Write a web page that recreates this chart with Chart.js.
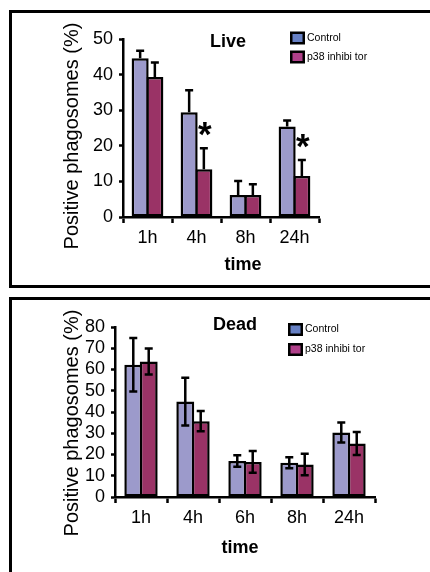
<!DOCTYPE html>
<html>
<head>
<meta charset="utf-8">
<script src="https://cdn.jsdelivr.net/npm/chart.js@4.4.1/dist/chart.umd.min.js"></script>
<style>
  body { margin: 0; background: #fff; width: 430px; height: 572px; overflow: hidden; position: relative; }
  .box { position: absolute; border: 3px solid #000; box-sizing: border-box; }
  #box1 { left: 9px; top: 10px; width: 440px; height: 278px; }
  #box2 { left: 9px; top: 297px; width: 440px; height: 300px; }
  canvas { position: absolute; left: 0; }
  #liveChart { top: 0; }
  #deadChart { top: 290px; }
</style>
</head>
<body>
<div class="box" id="box1"></div>
<div class="box" id="box2"></div>
<canvas id="liveChart" width="430" height="290"></canvas>
<canvas id="deadChart" width="430" height="282"></canvas>
<script>
// series names
const seriesNames = ['Control', 'p38 inhibi tor'];

// Live panel (error bars only go up)
const liveLabels = ['1h', '4h', '8h', '24h'];
const liveControl = [44.6, 29.4, 6.2, 25.4];
const liveControlErr = [2.1, 6.2, 3.9, 1.7];
const liveInhib = [39.3, 13.4, 6.2, 11.5];
const liveInhibErr = [4.1, 5.9, 3.0, 4.5];
const liveStars = [false, true, false, true]; // asterisk over inhibitor bar
const liveTicks = [0, 10, 20, 30, 40, 50];

// Dead panel (symmetric error bars)
const deadLabels = ['1h', '4h', '6h', '8h', '24h'];
const deadControl = [62.2, 44.9, 16.9, 16.1, 30.4];
const deadControlErr = [12.6, 11.2, 2.7, 2.6, 4.7];
const deadInhib = [63.8, 35.7, 16.5, 15.3, 25.2];
const deadInhibErr = [6.1, 4.8, 5.1, 5.1, 5.4];
const deadTicks = [0, 10, 20, 30, 40, 50, 60, 70, 80];

const FONT = "'Liberation Sans', Arial, sans-serif";
const barColors = ['#9c9acb', '#9a3366'];
const swatchColors = ['#6680c4', '#b0408a'];

// titles, legend, error bars and asterisks
const extras = {
    id: 'extras',
    afterDatasetsDraw(chart, args, o) {
        const ctx = chart.ctx;
        const y = chart.scales.y;
        ctx.save();
        ctx.strokeStyle = '#000';
        ctx.lineWidth = 2.5;
        o.errors.forEach((errs, di) => {
            const meta = chart.getDatasetMeta(di);
            const vals = chart.data.datasets[di].data;
            meta.data.forEach((bar, i) => {
                const top = y.getPixelForValue(vals[i] + errs[i]);
                const bot = o.twoSided ? y.getPixelForValue(vals[i] - errs[i]) : bar.y;
                ctx.beginPath();
                ctx.moveTo(bar.x, top); ctx.lineTo(bar.x, bot);
                ctx.moveTo(bar.x - 4, top); ctx.lineTo(bar.x + 4, top);
                if (o.twoSided) { ctx.moveTo(bar.x - 4, bot); ctx.lineTo(bar.x + 4, bot); }
                ctx.stroke();
            });
        });
        // asterisks
        if (o.stars) {
            const meta = chart.getDatasetMeta(1);
            const vals = chart.data.datasets[1].data;
            ctx.fillStyle = '#000';
            ctx.font = 'bold 35px ' + FONT;
            ctx.textAlign = 'center';
            ctx.textBaseline = 'alphabetic';
            const m = ctx.measureText('*');
            const shift = (m.actualBoundingBoxAscent - m.actualBoundingBoxDescent) / 2;
            o.stars.forEach((s, i) => {
                if (!s) return;
                const top = y.getPixelForValue(vals[i] + o.errors[1][i]);
                ctx.fillText('*', meta.data[i].x + 1, top - 19 + shift);
            });
        }
        ctx.restore();
    },
    afterDraw(chart, args, o) {
        const ctx = chart.ctx;
        ctx.save();
        ctx.fillStyle = '#000';
        ctx.textAlign = 'center';
        ctx.textBaseline = 'middle';
        // panel title
        ctx.font = 'bold 18px ' + FONT;
        ctx.fillText(o.title, o.titleX, o.titleY);
        // x axis title
        ctx.fillText('time', o.xTitleX, o.xTitleY);
        // y axis title
        ctx.font = '20px ' + FONT;
        ctx.translate(o.yTitleX, o.yTitleY);
        ctx.rotate(-Math.PI / 2);
        ctx.fillText('Positive phagosomes (%)', 0, 0);
        ctx.setTransform(1, 0, 0, 1, 0, 0);
        // legend
        ctx.textAlign = 'left';
        ctx.font = '10.5px ' + FONT;
        chart.data.datasets.forEach((ds, i) => {
            const cy = o.legendY + i * o.legendGap;
            ctx.fillStyle = '#000';
            ctx.fillRect(o.legendX, cy - 6.5, 15, 13);
            ctx.fillStyle = swatchColors[i];
            ctx.fillRect(o.legendX + 2.5, cy - 4, 10, 8);
            ctx.fillStyle = '#000';
            ctx.fillText(ds.label, o.legendX + 17, cy);
        });
        ctx.restore();
    }
};

function makeChart(canvasId, cfg) {
    const ctx = document.getElementById(canvasId).getContext('2d');
    return new Chart(ctx, {
        type: 'bar',
        data: {
            labels: cfg.labels,
            datasets: cfg.series.map((vals, i) => ({
                label: seriesNames[i],
                data: vals,
                backgroundColor: barColors[i],
                borderColor: '#000',
                borderWidth: 2.5,
                borderSkipped: false,
                categoryPercentage: cfg.catPct,
                barPercentage: 1.16
            }))
        },
        options: {
            responsive: false,
            animation: false,
            layout: { padding: cfg.padding },
            plugins: {
                legend: { display: false },
                tooltip: { enabled: false },
                extras: cfg.extras
            },
            scales: {
                x: {
                    grid: { display: true, drawOnChartArea: false, drawTicks: true, tickLength: 6, tickWidth: 2.5, tickColor: '#000', offset: true },
                    border: { display: true, color: '#000', width: 2.5 },
                    ticks: { color: '#000', font: { family: FONT, size: 18 }, padding: 4, maxRotation: 0, autoSkip: false },
                    afterFit: s => { s.height = cfg.xHeight; }
                },
                y: {
                    min: 0,
                    max: cfg.ticks[cfg.ticks.length - 1],
                    afterBuildTicks: s => { s.ticks = cfg.ticks.map(v => ({ value: v })); },
                    grid: { display: true, drawOnChartArea: false, drawTicks: true, tickLength: 4, tickWidth: 2.5, tickColor: '#000' },
                    border: { display: true, color: '#000', width: 2.5 },
                    ticks: { color: '#000', font: { family: FONT, size: 18 }, padding: 6, autoSkip: false },
                    afterFit: s => { s.width = cfg.yWidth; }
                }
            }
        },
        plugins: [extras]
    });
}

makeChart('liveChart', {
    labels: liveLabels,
    series: [liveControl, liveInhib],
    ticks: liveTicks,
    catPct: 0.60,
    padding: { left: 0, top: 39, right: 111, bottom: 0 },
    yWidth: 123,
    xHeight: 73,
    extras: {
        errors: [liveControlErr, liveInhibErr],
        twoSided: false,
        stars: liveStars,
        title: 'Live', titleX: 228, titleY: 42,
        xTitleX: 243, xTitleY: 265,
        yTitleX: 72, yTitleY: 136,
        legendX: 290, legendY: 38, legendGap: 19
    }
});

makeChart('deadChart', {
    labels: deadLabels,
    series: [deadControl, deadInhib],
    ticks: deadTicks,
    catPct: 0.594,
    padding: { left: 0, top: 37, right: 55, bottom: 0 },
    yWidth: 115,
    xHeight: 75,
    extras: {
        errors: [deadControlErr, deadInhibErr],
        twoSided: true,
        stars: null,
        title: 'Dead', titleX: 235, titleY: 35,
        xTitleX: 240, xTitleY: 258,
        yTitleX: 72, yTitleY: 133,
        legendX: 288, legendY: 39.5, legendGap: 20
    }
});
</script>
</body>
</html>
